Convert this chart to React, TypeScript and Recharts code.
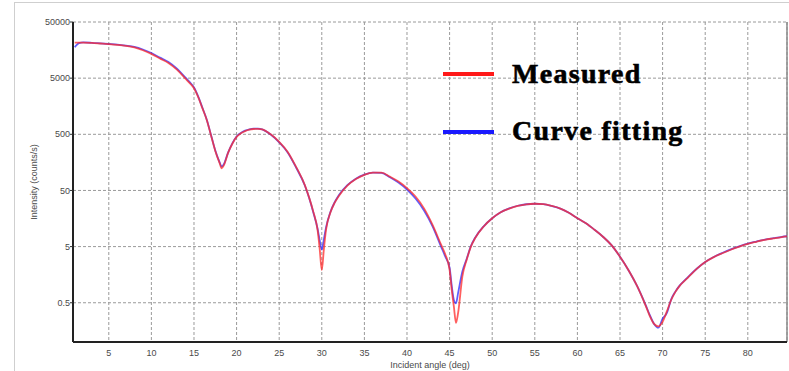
import { LineChart, Line, XAxis, YAxis, CartesianGrid, Legend, ReferenceLine } from 'recharts';

// incident angle (deg)
const angles = [
  1, 1.5, 2, 3, 4, 5, 6, 7, 8, 9, 10, 11, 12, 13, 14,
  14.5, 15, 15.5, 16, 16.5, 17, 17.5, 18, 18.25, 18.5, 19, 19.5,
  20, 20.5, 21, 21.5, 22, 22.5, 23, 24, 25, 26, 27, 28, 28.5, 29, 29.5, 29.75, 30, 30.25, 30.5, 31, 31.5, 32, 33, 34,
  35, 36, 37, 38, 39, 40, 41, 42, 43, 44, 44.5, 45, 45.25, 45.5, 45.75, 46, 46.5, 47, 47.5, 48, 49, 50,
  51, 52, 53, 54, 55, 56, 57, 58, 59, 60, 61, 62, 63, 64, 65, 66, 67, 68,
  68.5, 69, 69.5, 70, 70.5, 71, 71.5, 72, 72.5, 73,
  74, 75, 76, 77, 78, 79, 80, 81, 82, 83, 84, 84.6,
];

// intensity (counts/s)
const measured = [
  21400, 21500, 21500, 21200, 20700, 20200, 19600, 18800, 17600, 15700, 13500, 11200, 9330, 7080, 4900,
  4070, 3310, 2290, 1445, 900, 478, 253, 155, 124, 140, 233, 340,
  450, 520, 570, 605, 622, 625, 612, 500, 367, 243, 130, 63, 38, 21, 10, 4.6, 1.9, 4.6, 10, 20, 30, 40, 61, 80,
  95, 104, 104, 88, 72, 55, 39, 24, 12.2, 5.4, 3.6, 1.93, 0.85, 0.43, 0.22, 0.33, 1.47, 2.9, 5, 7.1, 11.4, 16,
  20.5, 23.8, 26.5, 28.3, 29, 28.5, 26.5, 23.8, 20, 16, 13, 10, 7.5, 5.3, 3.3, 1.9, 1.0, 0.45,
  0.29, 0.21, 0.19, 0.23, 0.35, 0.56, 0.78, 1.0, 1.2, 1.42,
  2.0, 2.65, 3.25, 3.8, 4.4, 5, 5.6, 6.1, 6.6, 7.0, 7.4, 7.6,
];

const fitted = [
  17700, 21000, 21600, 21300, 20800, 20300, 19800, 19000, 18000, 16200, 14000, 11600, 9650, 7350, 5100,
  4250, 3420, 2350, 1470, 910, 485, 258, 160, 133, 146, 236, 345,
  456, 528, 580, 615, 632, 630, 612, 495, 360, 238, 127, 62, 37.5, 20.5, 10.5, 6.5, 4.4, 6.8, 11, 20.5, 30.5, 41, 62, 81,
  96, 104, 103, 86, 69, 52, 36, 22, 11.5, 5.0, 3.3, 2.1, 1.0, 0.56, 0.49, 0.75, 1.8, 3.0, 5.1, 7.2, 11.5, 16,
  20.5, 24, 26.7, 28.4, 29, 28.6, 26.5, 23.8, 20, 16, 13, 10, 7.5, 5.3, 3.3, 1.9, 1.0, 0.46,
  0.3, 0.21, 0.18, 0.26, 0.33, 0.57, 0.79, 1.01, 1.21, 1.44,
  2.02, 2.67, 3.27, 3.85, 4.45, 5.05, 5.65, 6.15, 6.65, 7.05, 7.45, 7.65,
];

const xTicks = [5, 10, 15, 20, 25, 30, 35, 40, 45, 50, 55, 60, 65, 70, 75, 80];
const xMinorTicks = Array.from({ length: 67 }, (_, i) => (i + 1) * 1.25);
const yTicks = [0.5, 5, 50, 500, 5000, 50000];
const yMinorTicks = [0.158, 1.58, 15.8, 158, 1581, 15811];
const xDomain = [0.8, 84.6];
const yDomain = [0.1, 50000];

const data = angles.map((a, i) => ({ angle: a, measured: measured[i], fitted: fitted[i] }));

const tickStyle = { fontSize: 9, fill: '#4a4a4a', fontFamily: 'Liberation Sans, Arial, sans-serif' };

const legendItems = [
  { name: 'Measured', color: '#ff1a1a', lineTop: 72, textTop: 59.6 },
  { name: 'Curve fitting', color: '#1a1aff', lineTop: 130, textTop: 116.6 },
];

function LegendBox() {
  return (
    <div style={{ position: 'relative', width: 789, height: 371 }}>
      {legendItems.map((it) => (
        <div key={it.name}>
          <div
            style={{ position: 'absolute', left: 443, top: it.lineTop, width: 51, height: 4, background: it.color }}
          />
          <div
            style={{
              position: 'absolute',
              left: 512,
              top: it.textTop,
              fontFamily: 'Liberation Serif, Times New Roman, serif',
              fontWeight: 'bold',
              fontSize: 28,
              lineHeight: 1,
              letterSpacing: 1.3,
              color: '#000',
              WebkitTextStroke: '0.6px #000',
              whiteSpace: 'nowrap',
            }}
          >
            {it.name}
          </div>
        </div>
      ))}
    </div>
  );
}

export default function App() {
  return (
    <div style={{ position: 'absolute', left: 0, top: 0, width: 789, height: 371, background: '#fff' }}>
      <div
        style={{
          position: 'absolute',
          left: 14,
          top: 2,
          width: 775,
          height: 369,
          borderLeft: '1px solid #cfcfcf',
          borderTop: '1px solid #cfcfcf',
        }}
      />
      <LineChart
        width={789}
        height={371}
        data={data}
        margin={{ top: 22, right: 2, bottom: 0, left: 0 }}
        style={{ position: 'absolute', left: 0, top: 0 }}
      >
        <CartesianGrid stroke="#9a9a9a" strokeDasharray="3 2" />
        {/* minor ticks, drawn inside the plot */}
        <XAxis
          xAxisId="minor"
          type="number"
          dataKey="angle"
          domain={xDomain}
          ticks={xMinorTicks}
          allowDataOverflow
          mirror
          height={0}
          tick={false}
          axisLine={false}
          tickSize={3}
          tickLine={{ stroke: '#555' }}
        />
        <YAxis
          yAxisId="minor"
          scale="log"
          domain={yDomain}
          ticks={yMinorTicks}
          allowDataOverflow
          mirror
          width={0}
          tick={false}
          axisLine={false}
          tickSize={3}
          tickLine={{ stroke: '#555' }}
        />
        <XAxis
          type="number"
          dataKey="angle"
          domain={xDomain}
          ticks={xTicks}
          allowDataOverflow
          height={29}
          tickLine={false}
          axisLine={{ stroke: '#222', strokeWidth: 2 }}
          tick={tickStyle}
          label={{
            value: 'Incident angle (deg)',
            position: 'insideBottom',
            offset: 3,
            style: tickStyle,
          }}
        />
        <YAxis
          scale="log"
          domain={yDomain}
          ticks={yTicks}
          allowDataOverflow
          width={73}
          tickSize={3}
          tickMargin={0}
          tickLine={{ stroke: '#333' }}
          axisLine={{ stroke: '#222', strokeWidth: 2 }}
          tick={tickStyle}
          tickFormatter={(v: number) => String(v)}
          label={{
            value: 'Intensity (counts/s)',
            angle: -90,
            position: 'center',
            dx: -3,
            style: { ...tickStyle, textAnchor: 'middle' },
          }}
        />
        <ReferenceLine x={xDomain[1]} stroke="#8a8a8a" strokeWidth={1.5} />
        <Legend
          verticalAlign="middle"
          align="center"
          layout="horizontal"
          content={() => <LegendBox />}
          wrapperStyle={{ left: 0, top: 0, width: 789, height: 371, pointerEvents: 'none' }}
        />
        <Line
          type="monotone"
          dataKey="fitted"
          stroke="#2a2aff"
          strokeWidth={1.8}
          strokeOpacity={0.75}
          dot={false}
          isAnimationActive={false}
        />
        <Line
          type="monotone"
          dataKey="measured"
          stroke="#ff2a2a"
          strokeWidth={1.8}
          strokeOpacity={0.75}
          dot={false}
          isAnimationActive={false}
        />
      </LineChart>
    </div>
  );
}
